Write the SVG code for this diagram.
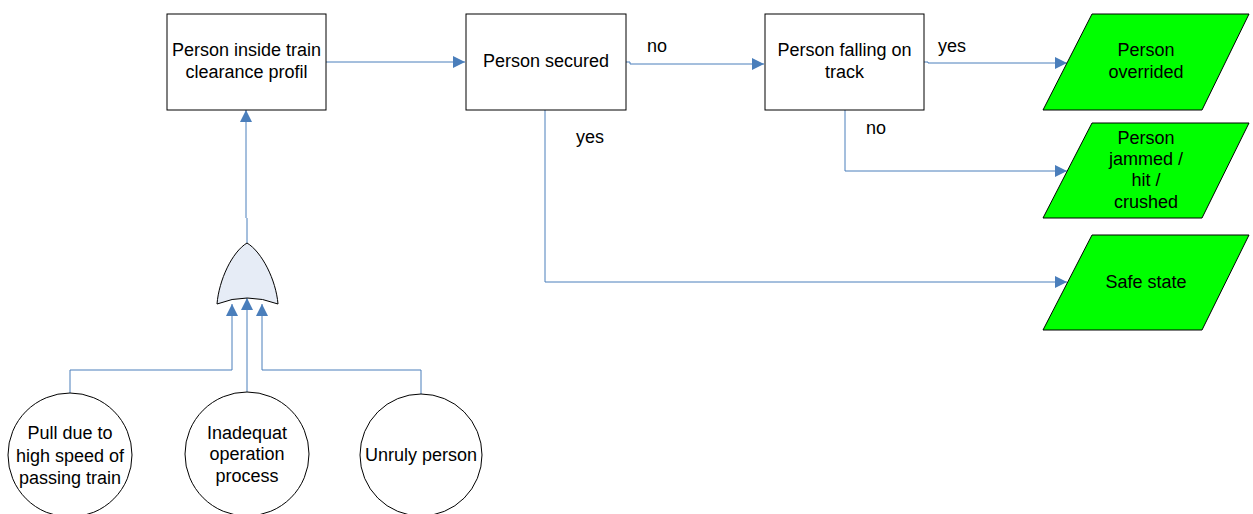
<svg xmlns="http://www.w3.org/2000/svg" width="1253" height="514" viewBox="0 0 1253 514">
<defs>
<marker id="ah" viewBox="0 0 10 10" refX="10" refY="5" markerWidth="12" markerHeight="12" markerUnits="userSpaceOnUse" orient="auto">
<path d="M0,0 L10,5 L0,10 z" fill="#4A7EBB"/>
</marker>
<style>
.box{fill:#fff;stroke:#000;stroke-width:1}
.par{fill:#00FF00;stroke:#000;stroke-width:1}
.t{font-family:"Liberation Sans",Arial,sans-serif;font-size:18px;fill:#000;text-anchor:middle}
.c{fill:none;stroke:#4A7EBB;stroke-width:1}
</style>
</defs>
<g id="connectors">
<path class="c" d="M326,62 H465" marker-end="url(#ah)"/>
<path class="c" d="M626,62 H630 V64 H764" marker-end="url(#ah)"/>
<path class="c" d="M924,62 H928 V63 H1067" marker-end="url(#ah)"/>
<path class="c" d="M845,110 V171 H1067" marker-end="url(#ah)"/>
<path class="c" d="M545,110 V282 H1067" marker-end="url(#ah)"/>
<path class="c" d="M246,218 V110" marker-end="url(#ah)"/>
<path class="c" d="M247,243 V218"/>
<path class="c" d="M70,393 V370 H232 V304" marker-end="url(#ah)"/>
<path class="c" d="M247,392 V298" stroke-width="2" marker-end="url(#ah)"/>
<path class="c" d="M421,394 V370 H262 V304" marker-end="url(#ah)"/>
</g>
<g id="n1"><rect class="box" x="167" y="14" width="159" height="96"/><text class="t" x="246.5" y="56">Person inside train</text><text class="t" x="246.5" y="78">clearance profil</text></g>
<g id="n2"><rect class="box" x="466" y="14" width="160" height="96"/><text class="t" x="546" y="67">Person secured</text></g>
<g id="n3"><rect class="box" x="765" y="14" width="159" height="96"/><text class="t" x="844.5" y="56">Person falling on</text><text class="t" x="844.5" y="78">track</text></g>
<g id="p1"><polygon class="par" points="1092,14 1249,14 1202,110 1043,110"/><text class="t" x="1146" y="56">Person</text><text class="t" x="1146" y="78">overrided</text></g>
<g id="p2"><polygon class="par" points="1092,123 1249,123 1202,218 1043,218"/><text class="t" x="1146" y="144">Person</text><text class="t" x="1146" y="165">jammed /</text><text class="t" x="1146" y="186">hit /</text><text class="t" x="1146" y="208">crushed</text></g>
<g id="p3"><polygon class="par" points="1092,235 1249,235 1202,330 1043,330"/><text class="t" x="1146" y="288">Safe state</text></g>
<g id="gate"><path d="M247,243 C262,252 276,280 278,304 Q247,292 217,304 C219,280 232,252 247,243 z" fill="#E6ECF6" stroke="#000" stroke-width="1"/></g>
<g id="e1"><circle class="box" cx="70" cy="455" r="62"/><text class="t" x="70" y="439">Pull due to</text><text class="t" x="70" y="462">high speed of</text><text class="t" x="70" y="484">passing train</text></g>
<g id="e2"><circle class="box" cx="247" cy="454" r="62"/><text class="t" x="247" y="439">Inadequat</text><text class="t" x="247" y="460">operation</text><text class="t" x="247" y="482">process</text></g>
<g id="e3"><circle class="box" cx="421" cy="455" r="61"/><text class="t" x="421" y="461">Unruly person</text></g>
<g id="labels">
<text class="t" x="657" y="52">no</text>
<text class="t" x="952" y="52">yes</text>
<text class="t" x="876" y="134">no</text>
<text class="t" x="590" y="143">yes</text>
</g>
</svg>
